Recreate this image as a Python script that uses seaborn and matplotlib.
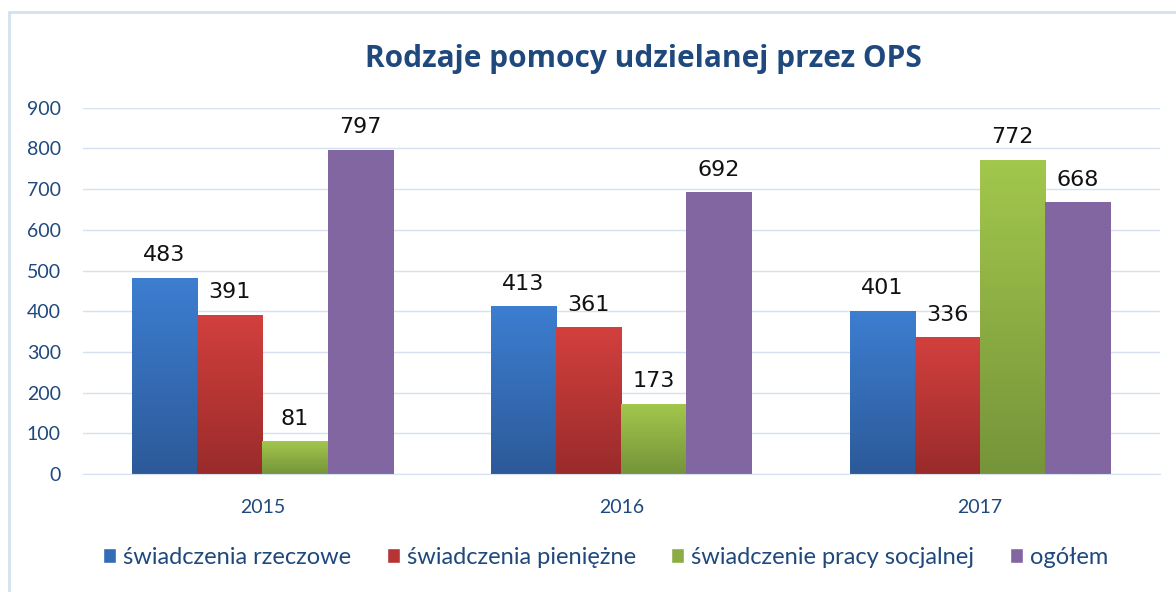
import numpy as np
import pandas as pd
import seaborn as sns
import matplotlib.pyplot as plt
from matplotlib.colors import LinearSegmentedColormap
from matplotlib.patches import Patch, Rectangle

# dane
years = ['2015', '2016', '2017']
series = ['świadczenia rzeczowe', 'świadczenia pieniężne',
          'świadczenie pracy socjalnej', 'ogółem']
rzeczowe = [483, 413, 401]
pieniezne = [391, 361, 336]
praca_socjalna = [81, 173, 772]
ogolem = [797, 692, 668]

# kolory: (góra, dół) gradientu
grad = {
    'świadczenia rzeczowe': ('#3D7ED1', '#2C5A99'),
    'świadczenia pieniężne': ('#D2403D', '#9A2B2B'),
    'świadczenie pracy socjalnej': ('#A2C74C', '#76943A'),
    'ogółem': ('#8166A2', '#8166A2'),
}
text_blue = '#1F497D'

df = pd.DataFrame({
    'rok': years * 4,
    'seria': sum([[s] * 3 for s in series], []),
    'wartosc': rzeczowe + pieniezne + praca_socjalna + ogolem,
})

sns.set_style('white')
plt.rcParams['font.family'] = ['Lato', 'DejaVu Sans']

fig = plt.figure(figsize=(11.76, 5.92), dpi=100)
ax = fig.add_axes([0.0706, 0.199, 0.9154, 0.619])

palette = {s: grad[s][0] for s in series}
sns.barplot(data=df, x='rok', y='wartosc', hue='seria', hue_order=series,
            palette=palette, width=0.727, saturation=1, ax=ax, legend=False)

# gradient na słupkach
ax.set_ylim(0, 900)
ax.set_xlim(-0.5, 2.5)
for cont, s in zip(ax.containers, series):
    top, bottom = grad[s]
    cmap = LinearSegmentedColormap.from_list(s, [bottom, top])
    for bar in cont:
        x0, y0 = bar.get_x(), bar.get_y()
        w, h = bar.get_width(), bar.get_height()
        img = ax.imshow(np.linspace(0, 1, 100).reshape(-1, 1), cmap=cmap,
                        origin='lower', extent=[x0, x0 + w, y0, y0 + h],
                        aspect='auto', zorder=2)
        img.set_clip_path(bar)
        bar.set_facecolor('none')
        bar.set_edgecolor('none')
    ax.bar_label(cont, padding=9, fontsize=16, color='#111111',
                 family=['DejaVu Sans'])
ax.set_xlim(-0.5, 2.5)
ax.set_ylim(0, 900)

ax.set_yticks(range(0, 1000, 100))
ax.grid(axis='y', color='#D5E1F0', linewidth=1)
ax.set_axisbelow(True)
for sp in ['top', 'right', 'left']:
    ax.spines[sp].set_visible(False)
ax.spines['bottom'].set_color('#D5E1F0')
ax.tick_params(axis='both', length=0, labelsize=14, colors=text_blue)
ax.tick_params(axis='x', pad=18)
ax.tick_params(axis='y', pad=16)
ax.set_xlabel('')
ax.set_ylabel('')

fig.suptitle('Rodzaje pomocy udzielanej przez OPS', y=0.925, x=0.547,
             fontsize=21.5, fontweight='bold', color=text_blue,
             family=['Open Sans', 'DejaVu Sans'])

handles = [Patch(facecolor=grad[s][0] if s == 'ogółem' else
                 sns.blend_palette([grad[s][0], grad[s][1]], 3).as_hex()[1],
                 label=s) for s in series]
fig.legend(handles=handles, loc='center', bbox_to_anchor=(0.515, 0.058), ncol=4,
           frameon=False, fontsize=17, handlelength=0.55, handleheight=0.6,
           handletextpad=0.3, columnspacing=1.5, labelcolor=text_blue)

# ramka wykresu
fig.add_artist(Rectangle((9 / 1176, -2 / 592), 1170 / 1176, 582 / 592,
                         transform=fig.transFigure, fill=False,
                         edgecolor='#D5E1F0', linewidth=2))

fig.savefig('out.png', dpi=100)
